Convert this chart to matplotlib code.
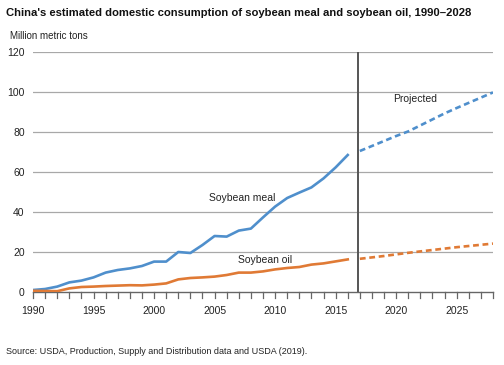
import matplotlib
matplotlib.use("Agg")
import matplotlib.pyplot as plt

plt.rcParams['font.family'] = ['Liberation Sans', 'DejaVu Sans']

# historical estimates, 1990-2016
years = list(range(1990, 2017))
meal = [1.0, 1.5, 2.7, 4.8, 5.7, 7.3, 9.7, 11.0, 11.8, 13.0, 15.2, 15.2, 20.0, 19.5,
        23.5, 28.0, 27.7, 30.7, 31.7, 37.3, 42.7, 47.0, 49.7, 52.3, 56.8, 62.3, 68.5]
oil = [0.6, 0.5, 0.4, 1.8, 2.5, 2.7, 3.0, 3.2, 3.4, 3.3, 3.7, 4.3, 6.3, 7.0,
       7.3, 7.7, 8.5, 9.7, 9.7, 10.3, 11.3, 12.0, 12.5, 13.7, 14.3, 15.3, 16.3]

# projections, 2017-2028
proj_years = list(range(2017, 2029))
meal_proj = [70.5, 73.0, 75.5, 78.0, 80.3, 83.3, 86.3, 89.3, 92.0, 94.6, 97.2, 99.8]
oil_proj = [16.6, 17.3, 18.0, 18.8, 19.6, 20.3, 21.0, 21.7, 22.4, 23.0, 23.6, 24.2]

yticks = [0, 20, 40, 60, 80, 100, 120]
xticks = [1990, 1995, 2000, 2005, 2010, 2015, 2020, 2025]

blue = '#4f8fcc'
orange = '#e07a35'

fig = plt.figure(figsize=(5.04, 3.65), dpi=100)
ax = fig.add_axes([33/504, 1 - 292/365, 460/504, 240/365])

for y in yticks[1:]:
    ax.axhline(y, color='#a8a8a8', lw=0.9, zorder=1)

ax.plot(years, meal, color=blue, lw=1.9, zorder=3)
ax.plot(years, oil, color=orange, lw=1.9, zorder=3)
ax.plot(proj_years, meal_proj, color=blue, lw=1.9, ls=(0, (2.2, 1.4)), zorder=3)
ax.plot(proj_years, oil_proj, color=orange, lw=1.9, ls=(0, (2.2, 1.4)), zorder=3)

ax.axvline(2016.85, color='#555555', lw=1.4, zorder=2)

ax.text(2007.3, 47, 'Soybean meal', fontsize=7.5, ha='center', va='center', color='#222222')
ax.text(2009.2, 15.8, 'Soybean oil', fontsize=7.5, ha='center', va='center', color='#222222')
ax.text(2021.6, 96.5, 'Projected', fontsize=7.5, ha='center', va='center', color='#222222')

ax.set_xlim(1990, 2028)
ax.set_ylim(0, 120)
ax.set_yticks(yticks)
ax.set_xticks(xticks)
ax.tick_params(axis='y', length=0, pad=6, labelsize=7.5, labelcolor='#222222')
ax.tick_params(axis='x', length=0, labelsize=7.5, labelcolor='#222222', pad=10)

# downward year ticks drawn below the baseline
for yr in range(1990, 2029):
    ax.plot([yr, yr], [0, -3.0], color='#666666', lw=0.9, clip_on=False, zorder=2)

for side in ['top', 'right', 'left']:
    ax.spines[side].set_visible(False)
ax.spines['bottom'].set_color('#666666')
ax.spines['bottom'].set_linewidth(1.0)

fig.text(6/504, 1 - 13/365, "China's estimated domestic consumption of soybean meal and soybean oil, 1990\u20132028",
         fontsize=8.1, fontweight='bold', va='center', ha='left', color='#111111')
fig.text(10/504, 1 - 36/365, 'Million metric tons', fontsize=7, va='center', ha='left', color='#222222')
fig.text(6/504, 1 - 351/365, 'Source: USDA, Production, Supply and Distribution data and USDA (2019).',
         fontsize=6.5, va='center', ha='left', color='#222222')

fig.savefig('out.png', dpi=100)
